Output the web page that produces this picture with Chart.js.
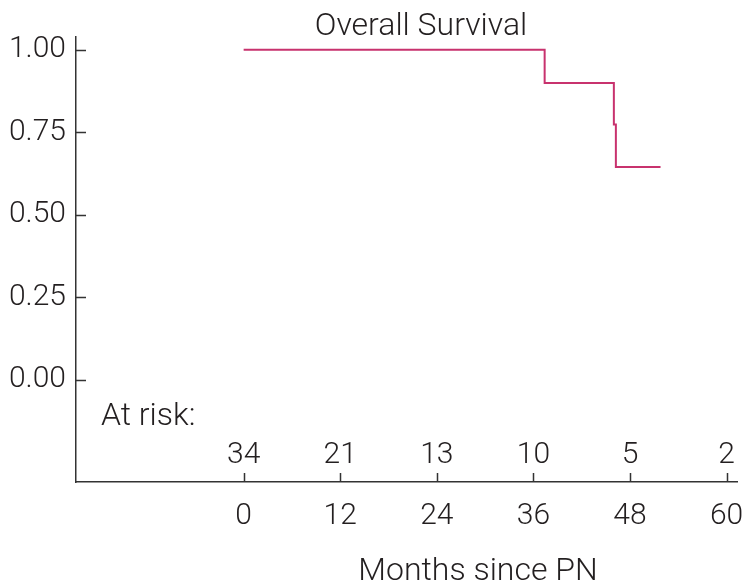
<!DOCTYPE html>
<html>
<head>
    <meta charset="UTF-8">
    <title>Overall Survival</title>
    <script src="https://cdn.jsdelivr.net/npm/chart.js@4.4.1/dist/chart.umd.min.js"></script>
    <style>
        html, body { margin: 0; padding: 0; background: #fff; }
        #wrap { width: 750px; height: 587px; }
    </style>
</head>
<body>
    <div id="wrap"><canvas id="kmChart"></canvas></div>

    <script>
        // 生存曲線のデータ
        const months = [0, 37.4, 46.0, 46.25, 51.8];
        const survival = [1.0, 0.90, 0.774, 0.645, 0.645];

        // at risk の表
        const riskMonths = [0, 12, 24, 36, 48, 60];
        const atRisk = [34, 21, 13, 10, 5, 2];

        // 目盛り
        const xTicks = [0, 12, 24, 36, 48, 60];
        const yTicks = [0, 0.25, 0.5, 0.75, 1.0];

        const FONT = 'Roboto, "Noto Sans", sans-serif';
        const TEXT = '#231f20';
        const AXIS = '#333333';

        // タイトル・at risk・目盛り線を描くプラグイン
        const kmExtras = {
            id: 'kmExtras',
            afterDraw(chart) {
                const ctx = chart.ctx;
                const x = chart.scales.x;
                const y = chart.scales.y;
                const area = chart.chartArea;
                ctx.save();

                // 内向きの目盛り線
                ctx.strokeStyle = AXIS;
                ctx.lineWidth = 1.5;
                ctx.beginPath();
                yTicks.forEach(v => {
                    const py = Math.round(y.getPixelForValue(v)) + 0.5;
                    ctx.moveTo(area.left, py);
                    ctx.lineTo(area.left + 10, py);
                });
                xTicks.forEach(v => {
                    const px = Math.round(x.getPixelForValue(v)) + 0.5;
                    ctx.moveTo(px, area.bottom);
                    ctx.lineTo(px, area.bottom - 9);
                });
                ctx.stroke();

                ctx.fillStyle = TEXT;
                ctx.textBaseline = 'alphabetic';

                // タイトル
                ctx.font = '300 32px ' + FONT;
                ctx.textAlign = 'center';
                ctx.fillText('Overall Survival', 421, 35);

                // At risk
                ctx.textAlign = 'left';
                ctx.fillText('At risk:', 101, 425);

                ctx.font = '300 30px ' + FONT;
                ctx.textAlign = 'center';
                riskMonths.forEach((m, i) => {
                    ctx.fillText(String(atRisk[i]), x.getPixelForValue(m), 463);
                });

                // x軸タイトル
                ctx.font = '300 32px ' + FONT;
                ctx.fillText('Months since PN', 478, 580);

                ctx.restore();
            }
        };

        const ctx = document.getElementById('kmChart');
        const kmChart = new Chart(ctx, {
            type: 'line',
            data: {
                datasets: [{
                    label: 'Overall Survival',
                    data: months.map((m, i) => ({ x: m, y: survival[i] })),
                    borderColor: '#c8326e',
                    borderWidth: 2,
                    pointRadius: 0,
                    fill: false,
                    stepped: true
                }]
            },
            options: {
                responsive: true,
                maintainAspectRatio: false,
                animation: false,
                layout: { padding: { top: 37, right: 13, left: 0, bottom: 0 } },
                plugins: {
                    legend: { display: false },
                    tooltip: { enabled: false }
                },
                scales: {
                    x: {
                        type: 'linear',
                        min: -20.83,
                        max: 61.3,
                        grid: { display: false, drawTicks: false },
                        border: { display: true, color: AXIS, width: 1.5 },
                        ticks: {
                            padding: 16,
                            color: TEXT,
                            font: { family: FONT, size: 30, weight: 300 }
                        },
                        afterBuildTicks: s => { s.ticks = xTicks.map(v => ({ value: v })); },
                        afterFit: s => {
                            s.height = 105;
                            s.paddingLeft = 0;
                            s.paddingRight = 0;
                        }
                    },
                    y: {
                        type: 'linear',
                        min: -0.309,
                        max: 1.039,
                        grid: { display: false, drawTicks: false },
                        border: { display: true, color: AXIS, width: 1.5 },
                        ticks: {
                            padding: 10,
                            color: TEXT,
                            font: { family: FONT, size: 30, weight: 300 },
                            callback: v => Number(v).toFixed(2)
                        },
                        afterBuildTicks: s => { s.ticks = yTicks.map(v => ({ value: v })); },
                        afterFit: s => {
                            s.width = 76;
                            s.paddingTop = 0;
                            s.paddingBottom = 0;
                        }
                    }
                }
            },
            plugins: [kmExtras]
        });
    </script>
</body>
</html>
